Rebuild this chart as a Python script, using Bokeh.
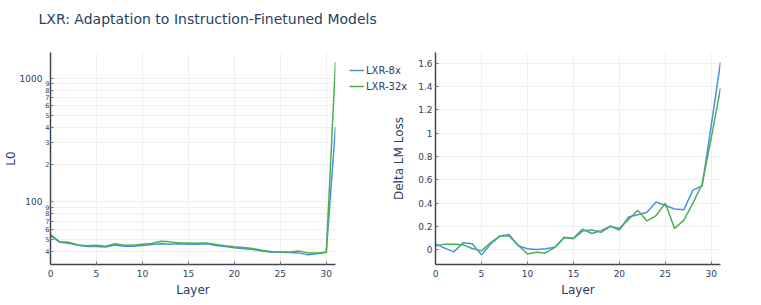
import math
from bokeh.plotting import figure
from bokeh.layouts import column, row
from bokeh.models import (Range1d, FixedTicker, LogAxis)
from bokeh.embed import file_html
from bokeh.resources import INLINE

# ---------------- data ----------------
layers = list(range(32))

l0_8x = [53.1, 47.2, 46.2, 44.6, 43.5, 43.5, 43.2, 44.9, 43.8, 43.8,
         44.4, 45.2, 45.8, 45.5, 45.8, 45.5, 45.5, 45.8, 44.4, 43.5,
         42.5, 41.7, 41.2, 40.1, 39.2, 39.2, 38.9, 38.7, 37.3, 38.0,
         39.2, 402.0]
l0_32x = [54.4, 47.5, 47.2, 44.9, 44.1, 44.6, 43.8, 45.8, 44.6, 44.6,
          45.4, 46.0, 48.0, 47.5, 46.6, 46.6, 46.3, 46.6, 45.2, 44.1,
          43.3, 42.7, 41.9, 40.6, 39.8, 39.4, 39.4, 40.1, 38.7, 38.7,
          39.2, 1346.0]

dlm_8x = [0.049, 0.015, -0.017, 0.060, 0.052, -0.043, 0.050, 0.118, 0.132, 0.035,
          0.010, 0.003, 0.010, 0.022, 0.108, 0.100, 0.178, 0.140, 0.165, 0.204,
          0.170, 0.282, 0.300, 0.322, 0.410, 0.380, 0.350, 0.343, 0.512, 0.547,
          1.070, 1.609]
dlm_32x = [0.035, 0.049, 0.049, 0.043, 0.012, -0.009, 0.063, 0.118, 0.118, 0.040,
           -0.035, -0.020, -0.026, 0.023, 0.104, 0.095, 0.161, 0.170, 0.150, 0.200,
           0.184, 0.260, 0.340, 0.248, 0.294, 0.400, 0.184, 0.253, 0.400, 0.564,
           0.960, 1.387]

series_names = ["LXR-8x", "LXR-32x"]
x_ticks = [0, 5, 10, 15, 20, 25, 30]
l0_major_ticks = [100, 1000]
l0_major_labels = ["100", "1000"]
l0_minor_ticks = [40, 50, 60, 70, 80, 90, 200, 300, 400, 500, 600, 700, 800, 900]
l0_minor_labels = ["4", "5", "6", "7", "8", "9", "2", "3", "4", "5", "6", "7", "8", "9"]
dlm_ticks = [0, 0.2, 0.4, 0.6, 0.8, 1.0, 1.2, 1.4, 1.6]
dlm_labels = ["0", "0.2", "0.4", "0.6", "0.8", "1", "1.2", "1.4", "1.6"]

# ---------------- style ----------------
FONT = "DejaVu Sans"
TXT = "#2a3f5f"
BLUE = "#4a90e2"
GREEN = "#4caf50"
GRID = "#f0f0f0"
AXIS = "#444444"


def style_axis(ax):
    ax.axis_line_color = AXIS
    ax.axis_line_width = 1.5
    ax.major_tick_line_color = "#777777"
    ax.major_tick_in = 3
    ax.major_tick_out = 0
    ax.minor_tick_line_color = None
    ax.major_label_text_font = FONT
    ax.major_label_text_font_size = "9px"
    ax.major_label_text_color = TXT
    ax.axis_label_text_font = FONT
    ax.axis_label_text_font_size = "12px"
    ax.axis_label_text_font_style = "normal"
    ax.axis_label_text_color = TXT


def style_plot(p, ylabel, y_standoff):
    p.outline_line_color = None
    p.background_fill_color = "white"
    p.border_fill_color = "white"
    style_axis(p.xaxis[0])
    style_axis(p.yaxis[0])
    p.xaxis.axis_label = "Layer"
    p.xaxis.ticker = FixedTicker(ticks=x_ticks, minor_ticks=[])
    p.xaxis.major_label_standoff = 5
    p.xaxis.axis_label_standoff = 3
    p.yaxis.axis_label = ylabel
    p.yaxis.major_label_standoff = y_standoff
    p.xgrid.grid_line_color = GRID
    p.ygrid.grid_line_color = GRID


def padded(lo, hi, frac=0.05):
    span = hi - lo
    return lo - frac * span, hi + frac * span


TOP = 19
BOTTOM = 33
FRAME_H = 212
ROW_H = TOP + FRAME_H + BOTTOM

# ---------------- title strip ----------------
pt = figure(width=745, height=33, toolbar_location=None, output_backend="svg",
            min_border=0, min_border_top=31, x_range=Range1d(0, 1), y_range=Range1d(0, 1))
pt.title.text = "LXR: Adaptation to Instruction-Finetuned Models"
pt.title.text_font = FONT
pt.title.text_font_size = "14px"
pt.title.text_font_style = "normal"
pt.title.text_color = TXT
pt.title.align = "left"
pt.title.offset = 38
pt.axis.visible = False
pt.grid.visible = False
pt.outline_line_color = None

# ---------------- left: L0 (log) ----------------
all_l0 = l0_8x + l0_32x
lo, hi = padded(math.log10(min(all_l0)), math.log10(max(all_l0)))
l0_all_ticks = sorted(l0_minor_ticks + l0_major_ticks)
p1 = figure(frame_width=285, frame_height=FRAME_H, y_axis_type="log",
            x_range=Range1d(layers[0], layers[-1]), y_range=Range1d(10 ** lo, 10 ** hi),
            min_border_left=40, min_border_right=8, min_border_top=TOP, min_border_bottom=BOTTOM,
            toolbar_location=None, output_backend="svg")
p1.line(layers, l0_8x, line_color=BLUE, line_width=1.5)
p1.line(layers, l0_32x, line_color=GREEN, line_width=1.5)
style_plot(p1, None, 1)
# inner axis: small minor digits next to the axis line
p1.yaxis.ticker = FixedTicker(ticks=l0_all_ticks, minor_ticks=[])
ov_minor = {t: s for t, s in zip(l0_minor_ticks, l0_minor_labels)}
ov_minor.update({t: "" for t in l0_major_ticks})
p1.yaxis.major_label_overrides = ov_minor
p1.yaxis.major_label_text_font_size = "6.5px"
# outer axis: decade labels and axis title
ax2 = LogAxis(ticker=FixedTicker(ticks=l0_all_ticks, minor_ticks=[]))
style_axis(ax2)
ax2.axis_line_color = None
ax2.major_tick_line_color = None
ax2.major_label_standoff = 0
ov_major = {t: "" for t in l0_minor_ticks}
ov_major.update({t: s for t, s in zip(l0_major_ticks, l0_major_labels)})
ax2.major_label_overrides = ov_major
ax2.axis_label = "L0"
ax2.axis_label_standoff = -1
p1.add_layout(ax2, "left")

# ---------------- right: Delta LM loss ----------------
all_d = dlm_8x + dlm_32x
dlo, dhi = padded(min(all_d), max(all_d))
p2 = figure(frame_width=285, frame_height=FRAME_H,
            x_range=Range1d(layers[0], layers[-1]), y_range=Range1d(dlo, dhi),
            min_border_left=92, min_border_right=33, min_border_top=TOP, min_border_bottom=BOTTOM,
            toolbar_location=None, output_backend="svg")
p2.line(layers, dlm_8x, line_color=BLUE, line_width=1.5)
p2.line(layers, dlm_32x, line_color=GREEN, line_width=1.5)
style_plot(p2, "Delta LM Loss", 3)
p2.yaxis.axis_label_standoff = 9
p2.yaxis.ticker = FixedTicker(ticks=dlm_ticks, minor_ticks=[])
p2.yaxis.major_label_overrides = {t: s for t, s in zip(dlm_ticks, dlm_labels)}

# ---------------- legend (small transparent figure laid over the gap) ----------------
# the series are re-drawn here only to carry the legend; the ranges keep them out of view
LEG_H = 32
LEG_TOP = TOP + 8          # legend top, measured from the top of the row
pl = figure(width=62, height=LEG_H, toolbar_location=None, output_backend="svg",
            min_border=0, x_range=Range1d(-3, -2), y_range=Range1d(-3, -2),
            margin=(-(ROW_H - LEG_TOP), 0, ROW_H - LEG_TOP - LEG_H, 349))
pl.line(layers, dlm_8x, line_color=BLUE, line_width=1.5, legend_label=series_names[0])
pl.line(layers, dlm_32x, line_color=GREEN, line_width=1.5, legend_label=series_names[1])
pl.axis.visible = False
pl.grid.visible = False
pl.outline_line_color = None
pl.background_fill_alpha = 0
pl.border_fill_alpha = 0
lg = pl.legend[0]
lg.location = "top_left"
lg.padding = 0
lg.margin = 0
lg.spacing = 0
lg.glyph_width = 15
lg.glyph_height = 16
lg.label_height = 16
lg.label_standoff = 2
lg.label_text_font = FONT
lg.label_text_font_size = "10px"
lg.label_text_color = TXT
lg.border_line_color = None
lg.background_fill_alpha = 0

layout = column(pt, row(p1, p2), pl)
open("out.html", "w").write(file_html(layout, INLINE))
